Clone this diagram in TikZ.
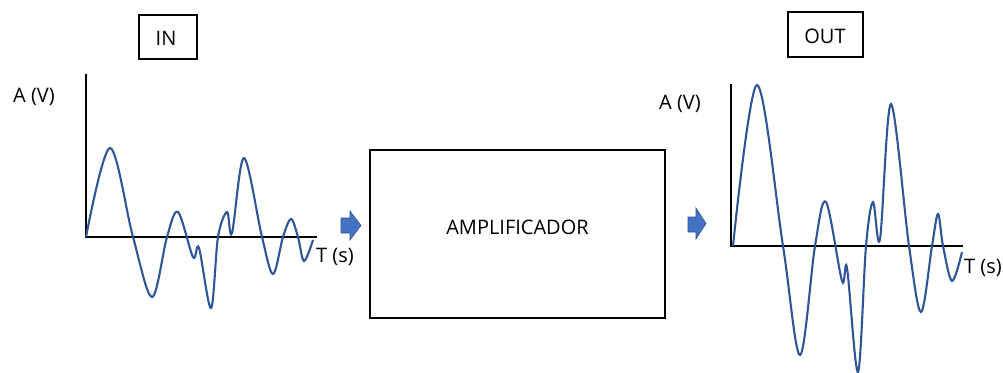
\documentclass[tikz,border=0pt]{standalone}
\usepackage{fontspec}
\setmainfont{Open Sans}
\definecolor{wave}{RGB}{47,85,151}
\definecolor{arrowfill}{RGB}{68,114,196}
\definecolor{arrowline}{RGB}{47,82,143}
\tikzset{
  lbl/.style={inner sep=0pt, font=\fontsize{20}{22}\selectfont},
  framebox/.style={draw=black, line width=1.4pt, inner sep=0pt},
  axis/.style={draw=black, line width=2.2pt},
  signal/.style={draw=wave, line width=2.1pt, smooth, tension=0.55},
  blockarrow/.style={fill=arrowfill, draw=arrowline, line width=0.6pt, line join=miter}
}
\begin{document}
\begin{tikzpicture}[x=1pt,y=-1pt]
\useasboundingbox (0,0) rectangle (1003,372);
% boxes
\node[framebox, minimum width=58pt, minimum height=44pt] (inbox) at (168,37) {};
\node[lbl] (intext) at (166,38) {IN};
\node[framebox, minimum width=75pt, minimum height=45pt] (outbox) at (825.5,34.5) {};
\node[lbl] (outtext) at (825,36) {OUT};
\node[framebox, minimum width=295pt, minimum height=168pt] (amp) at (517.5,234) {};
\node[lbl] (amptext) at (517.5,227) {AMPLIFICADOR};
% left plot
\coordinate (o1) at (86,237);
\coordinate (y1) at (86,74);
\coordinate (x1) at (317,237);
\draw[axis] (y1) -- (o1) -- (x1);
\node[lbl] (a1) at (34,97) {A (V)};
\node[lbl] (t1) at (335,257) {T (s)};
\draw[signal] plot coordinates {(86,237) (110,148) (133,237) (152,297) (167,237) (178,212) (193,257) (199,248) (211,308) (218,237) (227,212) (232,233) (244,158) (262,237) (273,274) (283,237) (291,219) (298,237) (304,261) (313,240)};
% right plot
\coordinate (o2) at (731,246);
\coordinate (y2) at (731,84);
\coordinate (x2) at (963,246);
\draw[axis] (y2) -- (o2) -- (x2);
\node[lbl] (a2) at (680,104) {A (V)};
\node[lbl] (t2) at (983,268) {T (s)};
\draw[signal] plot coordinates {(733,246) (757,85) (783,246) (800,355) (815,246) (826,202) (842,281) (847,268) (858,372) (866,246) (873,202) (880,239) (891,104) (909,246) (921,312) (932,246) (938,214) (943,246) (952,281) (962,252)};
% block arrows
\draw[blockarrow] (341,218) -- (350,218) -- (350,211) -- (361,225.5) -- (350,240) -- (350,233) -- (341,233) -- cycle;
\draw[blockarrow] (688,217) -- (696,217) -- (696,208) -- (706,223.5) -- (696,239) -- (696,232) -- (688,232) -- cycle;
\end{tikzpicture}
\end{document}
